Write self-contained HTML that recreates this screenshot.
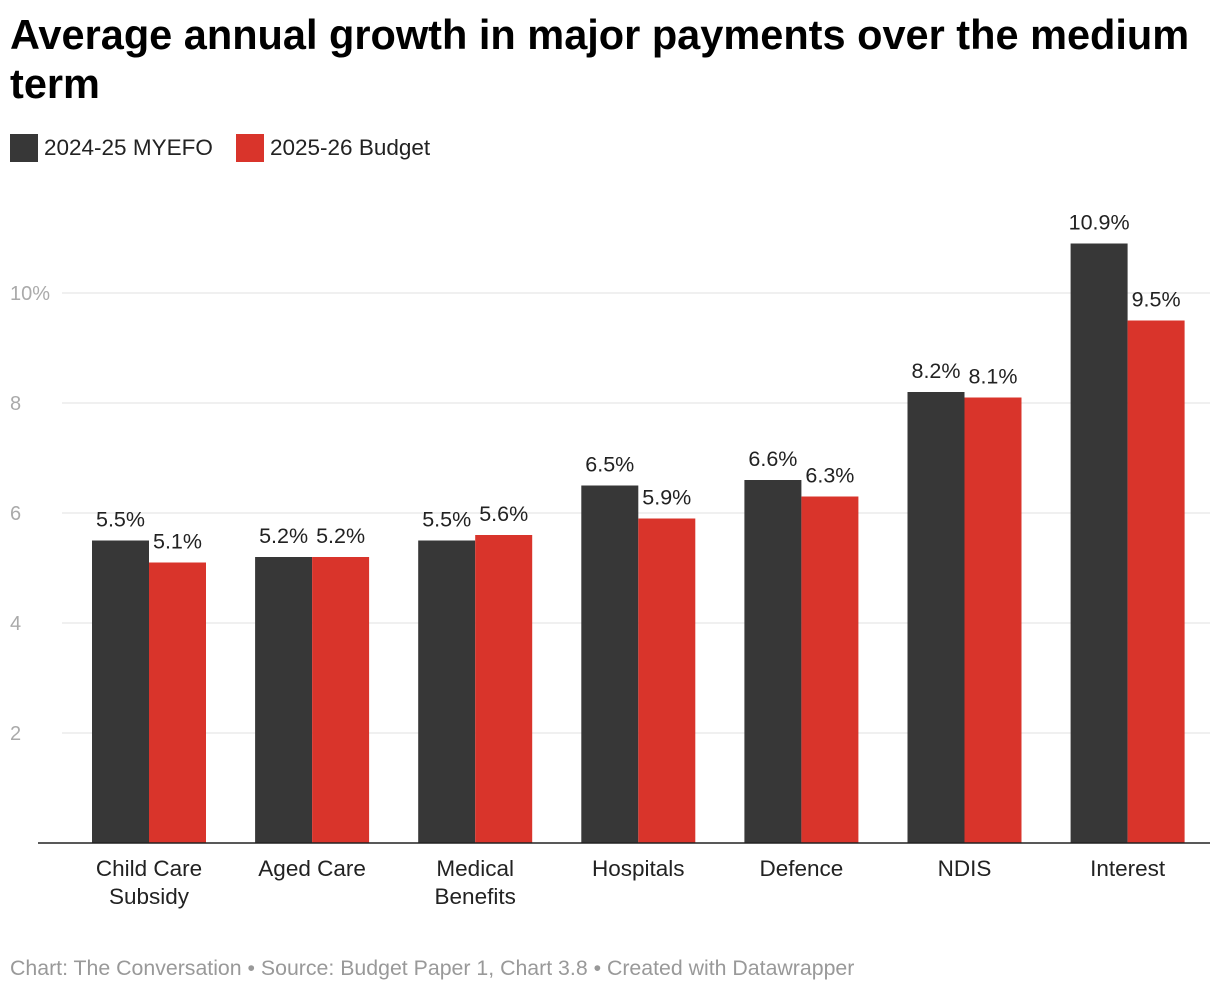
<!DOCTYPE html>
<html><head><meta charset="utf-8"><style>
body{margin:0;background:#fff;font-family:"Liberation Sans",sans-serif;}
#wrap{position:relative;width:1220px;height:992px;overflow:hidden;}
h1{position:absolute;left:10px;top:10px;margin:0;font-size:41.5px;line-height:49px;font-weight:bold;color:#000;width:1205px;letter-spacing:0}
.leg{position:absolute;top:134px;font-size:22.5px;color:#222;display:flex;align-items:center}
.sw{width:28px;height:28px;margin-right:6px}
#foot{position:absolute;left:10px;top:956px;font-size:21.3px;color:#999}
</style></head><body>
<div id="wrap">
<h1>Average annual growth in major payments over the medium term</h1>
<div class="leg" style="left:10px"><div class="sw" style="background:#373737"></div>2024-25 MYEFO</div>
<div class="leg" style="left:236px"><div class="sw" style="background:#d9342b"></div>2025-26 Budget</div>
<svg id="chart" width="1220" height="992" style="position:absolute;left:0;top:0"></svg>
<div id="foot">Chart: The Conversation • Source: Budget Paper 1, Chart 3.8 • Created with Datawrapper</div>
</div>
<script>
const categories=[["Child Care","Subsidy"],["Aged Care"],["Medical","Benefits"],["Hospitals"],["Defence"],["NDIS"],["Interest"]];
const myefo=[5.5,5.2,5.5,6.5,6.6,8.2,10.9];
const budget=[5.1,5.2,5.6,5.9,6.3,8.1,9.5];
const ticks=[2,4,6,8,10];
const tickLabels=["2","4","6","8","10%"];
const NS="http://www.w3.org/2000/svg";
const svg=document.getElementById('chart');
const y=v=>843-v*55;
const x0=149,step=163.1,bw=57;
function mk(t,a,txt){const e=document.createElementNS(NS,t);for(const k in a)e.setAttribute(k,a[k]);if(txt!=null)e.textContent=txt;svg.appendChild(e);return e;}
ticks.forEach((t,i)=>{
 const g=mk('line',{x1:62,x2:1210,y1:y(t),y2:y(t),stroke:'#e0e0e0','stroke-width':1});
 
 
 const l=mk('text',{x:10,y:y(t)+7,'font-size':20,fill:'#aaa','font-family':'Liberation Sans'},tickLabels[i]);
 
 
});
categories.forEach((c,i)=>{
 const cx=x0+i*step;
 [[myefo[i],cx-bw,'#373737','myefo'],[budget[i],cx,'#d9342b','budget']].forEach(([v,bx,col,s],j)=>{
  const r=mk('rect',{x:bx,y:y(v),width:bw,height:843-y(v),fill:col});
  
  
  const t=mk('text',{x:bx+bw/2,y:y(v)-14,'font-size':21.5,fill:'#222','text-anchor':'middle','font-family':'Liberation Sans'},v.toFixed(1)+'%');
  
  
 });
 c.forEach((ln,k)=>{
  const t=mk('text',{x:cx,y:876+k*28,'font-size':22.5,fill:'#222','text-anchor':'middle','font-family':'Liberation Sans'},ln);
  
  
 });
});
const b=mk('line',{x1:38,x2:1210,y1:843,y2:843,stroke:'#222','stroke-width':1.5});


</script>
</body></html>
